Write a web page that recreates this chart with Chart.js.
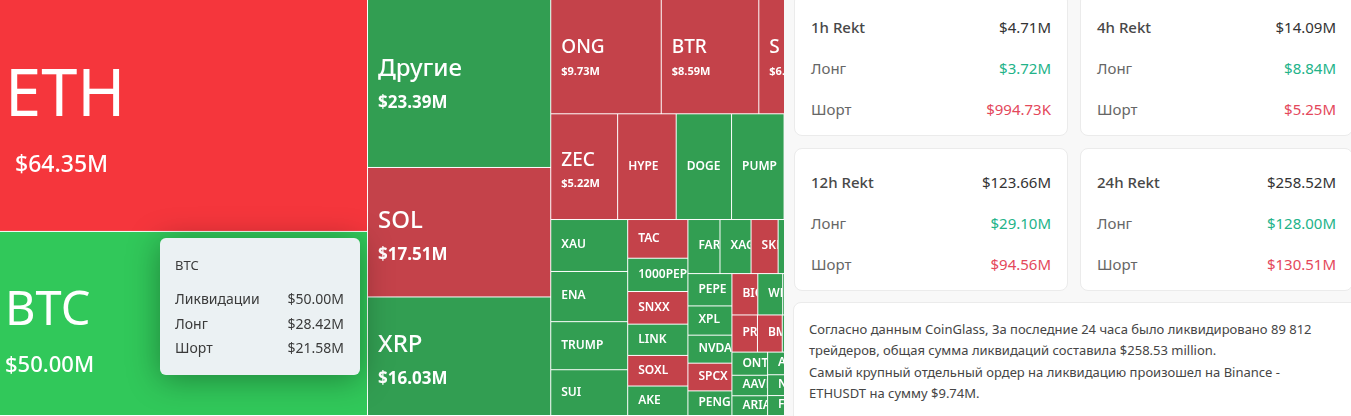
<!DOCTYPE html>
<html lang="ru">

<head>
    <title>Ликвидации — тепловая карта</title>
    <meta charset="utf-8" />
    <script src="https://cdn.jsdelivr.net/npm/chart.js"></script>
    <style>
        body { margin: 0; width: 1351px; height: 416px; overflow: hidden; background: #fff; position: relative; font-family: "Noto Sans", sans-serif; }
        #tree { position: absolute; left: 0; top: 0; width: 784px; height: 416px; overflow: hidden; }
        #mapBox { position: absolute; left: 0; top: -5px; width: 832px; height: 421px; }
        .tip { position: absolute; left: 160px; top: 238px; width: 200px; height: 137px; border-radius: 6px;
            background: rgba(239, 242, 246, 0.98); box-shadow: 0 4px 32px rgba(0, 0, 0, 0.35); color: #3a3a3a; font-size: 14px; }
        .tip div { position: absolute; left: 15px; right: 16px; line-height: 20px; display: flex; justify-content: space-between; }
        #side { position: absolute; left: 784px; top: 0; width: 567px; height: 416px; background: #f8f8f8; }
        .card { position: absolute; background: #fff; border: 1px solid #ebebeb; border-radius: 8px; box-sizing: border-box; }
        .card .row { position: absolute; left: 16px; right: 16px; line-height: 20px; font-size: 15px; display: flex; justify-content: space-between; color: #666; }
        .card .row.head { color: #484848; font-weight: 500; }
        .card .row.head span:last-child { color: #333; font-weight: 400; }
        .up { color: #22b389; }
        .down { color: #e4485b; }
        .note { font-size: 13px; line-height: 21.3px; color: #454545; padding: 16px 0 0 15px; white-space: nowrap; }
    </style>
</head>

<body>
    <div id="tree">
        <div id="mapBox"><canvas id="map"></canvas></div>
        <div class="tip">
            <div style="top:17px; font-size:13px;"><span>BTC</span></div>
            <div style="top:51px;"><span>Ликвидации</span><span>$50.00M</span></div>
            <div style="top:76px;"><span>Лонг</span><span>$28.42M</span></div>
            <div style="top:100px;"><span>Шорт</span><span>$21.58M</span></div>
        </div>
    </div>
    <div id="side"></div>

    <script>
        // Монеты и сумма ликвидаций за 24ч, $M (ячейки, скрытые под панелью справа, оценены)
        const coins = ['ETH', 'BTC', 'Другие', 'SOL', 'XRP', 'ONG', 'BTR', 'S', 'ZEC', 'HYPE', 'DOGE', 'PUMP', 'ASTER',
            'XAU', 'ENA', 'TRUMP', 'SUI', 'TAC', '1000PEPE', 'SNXX', 'LINK', 'SOXL', 'AKE', 'FARTCOIN', 'XAG', 'SKL',
            'BNB', 'ADA', 'PEPE', 'XPL', 'NVDA', 'SPCX', 'PENGU', 'BIO', 'WLFI', 'LTC', 'AVAX', 'PROVE', 'BMT', 'ETC',
            'UNI', 'ONT', 'AAVE', 'ARIA', 'APT', 'NEAR', 'FIL', 'TIA', 'OP', 'ARB', 'SEI'];
        const liquidations = [64.35, 50.00, 23.39, 17.51, 16.03, 9.73, 8.59, 6.40, 5.22, 4.57, 4.32, 4.10, 3.70,
            2.95, 2.85, 2.73, 2.60, 1.72, 1.48, 1.45, 1.39, 1.36, 1.31, 1.28, 1.24, 1.08,
            1.07, 1.06, 1.05, 0.95, 0.91, 0.90, 0.80, 0.79, 0.76, 0.75, 0.74, 0.70, 0.68, 0.68,
            0.67, 0.61, 0.54, 0.52, 0.50, 0.46, 0.44, 0.43, 0.41, 0.39, 0.36];
        // какая сторона ликвидирована больше: L - лонги, S - шорты
        const dominantSide = ['S', 'L', 'L', 'S', 'L', 'S', 'S', 'S', 'S', 'S', 'L', 'L', 'L',
            'L', 'L', 'L', 'L', 'S', 'L', 'S', 'L', 'S', 'L', 'L', 'L', 'S',
            'L', 'L', 'L', 'L', 'L', 'S', 'L', 'S', 'L', 'L', 'S', 'S', 'S', 'L',
            'S', 'L', 'L', 'L', 'L', 'L', 'L', 'S', 'L', 'S', 'L'];

        // Карточки Rekt
        const rektPeriods = ['1h Rekt', '4h Rekt', '12h Rekt', '24h Rekt'];
        const rektTotal = ['$4.71M', '$14.09M', '$123.66M', '$258.52M'];
        const rektLong = ['$3.72M', '$8.84M', '$29.10M', '$128.00M'];
        const rektShort = ['$994.73K', '$5.25M', '$94.56M', '$130.51M'];
        const noteLines = [
            'Согласно данным CoinGlass, За последние 24 часа было ликвидировано 89 812',
            'трейдеров, общая сумма ликвидаций составила $258.53 million.',
            'Самый крупный отдельный ордер на ликвидацию произошел на Binance -',
            'ETHUSDT на сумму $9.74M.'
        ];

        // Правая панель
        var side = document.getElementById('side');
        var cardPos = [[10, -7], [296, -7], [10, 148], [296, 148]];
        rektPeriods.forEach(function (p, i) {
            var c = document.createElement('div');
            c.className = 'card';
            c.style.cssText = 'left:' + cardPos[i][0] + 'px; top:' + cardPos[i][1] + 'px; width:' + (i % 2 ? 273 : 274) + 'px; height:143px;';
            c.innerHTML =
                '<div class="row head" style="top:23px"><span>' + p + '</span><span>' + rektTotal[i] + '</span></div>' +
                '<div class="row" style="top:64px"><span>Лонг</span><span class="up">' + rektLong[i] + '</span></div>' +
                '<div class="row" style="top:105px"><span>Шорт</span><span class="down">' + rektShort[i] + '</span></div>';
            side.appendChild(c);
        });
        var note = document.createElement('div');
        note.className = 'card';
        note.style.cssText = 'left:9px; top:302px; width:570px; height:140px;';
        note.innerHTML = '<div class="note">' + noteLines.join('<br>') + '</div>';
        side.appendChild(note);

        // Squarify как в ECharts treemap
        const RATIO = 0.5 * (1 + Math.sqrt(5));

        function worst(row, area, fixed) {
            var max = 0, min = Infinity;
            row.forEach(function (n) { if (n.area) { min = Math.min(min, n.area); max = Math.max(max, n.area); } });
            var sq = area * area, f = fixed * fixed * RATIO;
            return sq ? Math.max(f * max / sq, sq / (f * min)) : Infinity;
        }

        function place(row, rowArea, fixed, rect, flush, out) {
            var horiz = fixed === rect.width;
            var other = fixed ? rowArea / fixed : 0;
            var avail = horiz ? rect.height : rect.width;
            if (flush || other > avail) other = avail;
            var last = horiz ? rect.x : rect.y;
            var end = horiz ? rect.x + rect.width : rect.y + rect.height;
            row.forEach(function (node, k) {
                var step = other ? node.area / other : 0;
                var remain = end - last;
                var len = (k === row.length - 1 || remain < step) ? remain : step;
                if (horiz) out.push(Object.assign({}, node, { x: last, y: rect.y, w: len, h: other }));
                else out.push(Object.assign({}, node, { x: rect.x, y: last, w: other, h: len }));
                last += len;
            });
            if (horiz) { rect.y += other; rect.height -= other; }
            else { rect.x += other; rect.width -= other; }
        }

        function squarify(items, rect) {
            var total = items.reduce(function (s, d) { return s + d.value; }, 0);
            var k = rect.width * rect.height / total;
            var queue = items.map(function (d) { return Object.assign({}, d, { area: d.value * k }); });
            var out = [], row = [], rowArea = 0, best = Infinity;
            var fixed = Math.min(rect.width, rect.height);
            var i = 0;
            while (i < queue.length) {
                row.push(queue[i]);
                rowArea += queue[i].area;
                var score = worst(row, rowArea, fixed);
                if (score <= best) { i++; best = score; }
                else {
                    row.pop();
                    rowArea -= queue[i].area;
                    place(row, rowArea, fixed, rect, false, out);
                    fixed = Math.min(rect.width, rect.height);
                    row = []; rowArea = 0; best = Infinity;
                }
            }
            if (row.length) place(row, rowArea, fixed, rect, true, out);
            return out;
        }

        var items = coins.map(function (name, i) {
            return { name: name, value: liquidations[i], side: dominantSide[i] };
        }).sort(function (a, b) { return b.value - a.value; });
        items.forEach(function (d, i) { d.rank = i; });

        function cellColor(d) {
            if (d.rank < 2) return d.side === 'L' ? '#31c85a' : '#f5363c';
            return d.side === 'L' ? '#329e52' : '#c4424a';
        }

        // подписи: размер шрифта по рангу
        function labelStyle(rank) {
            if (rank === 0) return { ns: 65, nw: 400, ndx: 5, ndy: 3, vs: 23, vw: 500, vdx: 15, vdy: 59 };
            if (rank === 1) return { ns: 47, nw: 400, ndx: 5, ndy: 1, vs: 22, vw: 500, vdx: 5, vdy: 48 };
            if (rank < 5) return { ns: 24, nw: 500, ndx: 10, ndy: -5, vs: 17, vw: 700, vdx: 10, vdy: 27 };
            if (rank < 9) return { ns: 19, nw: 500, ndx: 10, ndy: -1.5, vs: 11, vw: 700, vdx: 10, vdy: 20 };
            return { ns: 12, nw: 600, ndx: 10, ndy: -1 };
        }

        const treemapPlugin = {
            id: 'treemapCells',
            afterDatasetsDraw(chart) {
                const ctx = chart.ctx, x = chart.scales.x, y = chart.scales.y;
                const cells = squarify(items, { x: x.min, y: y.min, width: x.max - x.min, height: y.max - y.min });
                cells.forEach(function (c) {
                    var left = x.getPixelForValue(c.x), right = x.getPixelForValue(c.x + c.w);
                    var top = y.getPixelForValue(c.y), bottom = y.getPixelForValue(c.y + c.h);
                    var w = right - left - 1, h = bottom - top - 1;
                    ctx.fillStyle = cellColor(c);
                    ctx.fillRect(left, top, w, h);

                    var st = labelStyle(c.rank);
                    var cy = (top + bottom) / 2;
                    ctx.save();
                    ctx.beginPath();
                    ctx.rect(left, top, w, h);
                    ctx.clip();
                    ctx.fillStyle = '#fff';
                    ctx.textAlign = 'left';
                    ctx.font = st.nw + ' ' + st.ns + 'px "Noto Sans"';
                    if (st.vs) {
                        ctx.textBaseline = 'alphabetic';
                        ctx.fillText(c.name, left + st.ndx, cy + st.ndy);
                        ctx.font = st.vw + ' ' + st.vs + 'px "Noto Sans"';
                        ctx.fillText('$' + c.value.toFixed(2) + 'M', left + st.vdx, cy + st.vdy);
                    } else {
                        ctx.textBaseline = 'middle';
                        ctx.fillText(c.name, left + st.ndx, cy + st.ndy);
                    }
                    ctx.restore();
                });
            }
        };

        const ctx = document.getElementById('map').getContext('2d');
        new Chart(ctx, {
            type: 'scatter',
            data: { datasets: [{ data: [], pointRadius: 0 }] },
            options: {
                responsive: true,
                maintainAspectRatio: false,
                animation: false,
                events: [],
                layout: { padding: 0 },
                scales: {
                    x: { type: 'linear', min: 0, max: 832, display: false },
                    y: { type: 'linear', min: 0, max: 421, reverse: true, display: false }
                },
                plugins: { legend: { display: false }, tooltip: { enabled: false } }
            },
            plugins: [treemapPlugin]
        });
    </script>
</body>

</html>
